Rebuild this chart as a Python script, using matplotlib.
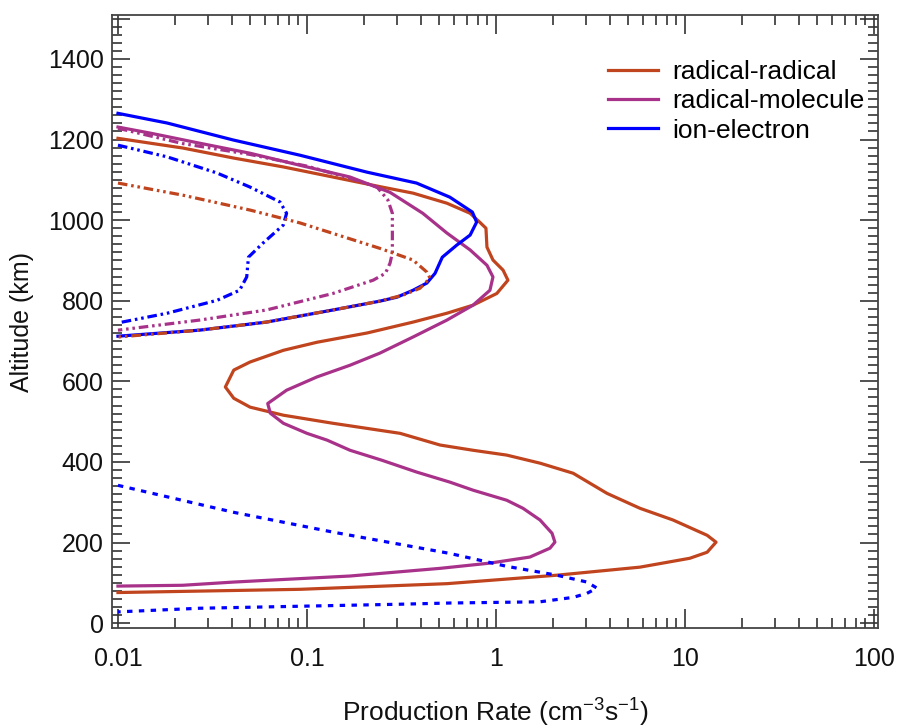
import matplotlib
matplotlib.use("Agg")
import matplotlib.pyplot as plt
from matplotlib.ticker import FixedLocator, FixedFormatter, MultipleLocator, LogLocator, NullFormatter

plt.rcParams["font.family"] = ["Liberation Sans", "DejaVu Sans"]
plt.rcParams["mathtext.default"] = "regular"

# radical-radical (solid) production rate vs altitude
rr_x = [0.01, 0.0148, 0.022, 0.041, 0.075, 0.137, 0.25, 0.364, 0.55, 0.73, 0.82, 0.885,
        0.896, 0.964, 1.09, 1.157, 1.01, 0.756, 0.55, 0.364, 0.208, 0.113, 0.075, 0.05,
        0.041, 0.037, 0.041, 0.05, 0.075, 0.137, 0.311, 0.506, 0.756, 1.14, 1.71, 2.56,
        3.87, 5.78, 8.64, 13.1, 14.6, 13.1, 10.6, 5.78, 2.1, 0.55, 0.092, 0.01]
rr_y = [1203, 1191, 1179, 1154, 1132, 1107, 1082, 1067, 1042, 1017, 995, 980,
        933, 901, 876, 851, 818, 789, 769, 747, 720, 697, 677, 648,
        628, 586, 558, 536, 516, 496, 471, 442, 429, 417, 397, 372,
        322, 285, 256, 218, 201, 176, 161, 139, 119, 98, 84, 76]

# radical-molecule (solid)
rm_x = [0.01, 0.0148, 0.027, 0.05, 0.092, 0.169, 0.275, 0.41, 0.55, 0.73, 0.896, 0.964,
        0.929, 0.756, 0.55, 0.364, 0.243, 0.169, 0.113, 0.078, 0.062, 0.064, 0.075, 0.1,
        0.128, 0.169, 0.25, 0.38, 0.57, 0.756, 1.14, 1.39, 1.71, 1.98, 2.05, 1.93,
        1.51, 0.929, 0.506, 0.169, 0.041, 0.022, 0.01]
rm_y = [1231, 1216, 1191, 1166, 1136, 1107, 1069, 1017, 968, 926, 888, 859,
        826, 789, 752, 710, 670, 640, 611, 578, 545, 521, 496, 471,
        454, 429, 404, 375, 350, 330, 305, 285, 256, 223, 201, 186,
        164, 149, 136, 117, 102, 94, 92]

# ion-electron (solid)
ie_x = [0.01, 0.0182, 0.0406, 0.092, 0.208, 0.38, 0.57, 0.75, 0.79, 0.73, 0.62, 0.52,
        0.476, 0.431, 0.364, 0.30, 0.243, 0.137, 0.061, 0.027, 0.01]
ie_y = [1265, 1241, 1199, 1161, 1119, 1092, 1057, 1020, 995, 963, 938, 908,
        868, 844, 826, 809, 799, 777, 747, 727, 712]

# dash-dot-dot companions
rr2_x = [0.01, 0.022, 0.05, 0.092, 0.243, 0.364, 0.431, 0.448, 0.396, 0.322,
         0.243, 0.137, 0.061, 0.027, 0.01]
rr2_y = [1092, 1062, 1025, 993, 930, 901, 871, 856, 831, 814,
         799, 777, 747, 727, 710]

rm2_x = [0.01, 0.022, 0.05, 0.1, 0.169, 0.235, 0.268, 0.283, 0.283, 0.275, 0.26,
         0.224, 0.137, 0.061, 0.027, 0.01]
rm2_y = [1228, 1190, 1163, 1134, 1104, 1082, 1050, 1017, 918, 893, 868,
         851, 818, 777, 752, 727]

ie2_x = [0.01, 0.0182, 0.0334, 0.05, 0.072, 0.078, 0.075, 0.0585, 0.049, 0.048,
         0.044, 0.0334, 0.0182, 0.01]
ie2_y = [1186, 1157, 1117, 1082, 1045, 1017, 988, 943, 908, 859,
         826, 801, 769, 745]

# ion-electron dotted (low altitude)
ie3_x = [0.01, 0.041, 0.137, 0.57, 1.14, 2.1, 3.03, 3.42, 3.03, 2.56, 1.71, 0.57,
         0.31, 0.092, 0.027, 0.01]
ie3_y = [342, 275, 226, 173, 141, 119, 102, 87, 74, 64, 53, 50,
         47, 42, 37, 28]

x_ticks = [0.01, 0.1, 1, 10, 100]
x_labels = ["0.01", "0.1", "1", "10", "100"]
y_ticks = [0, 200, 400, 600, 800, 1000, 1200, 1400, 1500]
y_labels = ["0", "200", "400", "600", "800", "1000", "1200", "1400", ""]

c_rr = "#C0441E"
c_rm = "#A8328A"
c_ie = "#0000FF"
ddot = (0, (3, 1.2, 0.8, 1.2, 0.8, 1.2))

fig = plt.figure(figsize=(8.98, 7.28), dpi=100)
ax = fig.add_axes([112/898, 1 - 628/728, 766/898, 613/728])

lw = 2.3
ax.plot(rr_x, rr_y, color=c_rr, lw=lw, label="radical-radical")
ax.plot(rm_x, rm_y, color=c_rm, lw=lw, label="radical-molecule")
ax.plot(ie_x, ie_y, color=c_ie, lw=lw, label="ion-electron")
ax.plot(rm2_x, rm2_y, color=c_rm, lw=lw, ls=ddot)
ax.plot(ie2_x, ie2_y, color=c_ie, lw=lw, ls=ddot)
ax.plot(rr2_x, rr2_y, color=c_rr, lw=lw, ls=ddot)
ax.plot(ie3_x, ie3_y, color=c_ie, lw=lw, ls=(0, (1.7, 2.0)))

ax.set_xscale("log")
ax.set_xlim(0.0093, 105)
ax.set_ylim(-12, 1509)

ax.xaxis.set_major_locator(FixedLocator(x_ticks))
ax.xaxis.set_major_formatter(FixedFormatter(x_labels))
ax.xaxis.set_minor_locator(LogLocator(base=10, subs=range(2, 10)))
ax.xaxis.set_minor_formatter(NullFormatter())
ax.yaxis.set_major_locator(FixedLocator(y_ticks))
ax.yaxis.set_major_formatter(FixedFormatter(y_labels))
ax.yaxis.set_minor_locator(MultipleLocator(20))

for s in ax.spines.values():
    s.set_linewidth(1.3)
    s.set_color("#444444")
ax.tick_params(which="both", direction="in", top=True, right=True,
               color="#333333", width=1.2, labelsize=18, labelcolor="#111111")
ax.tick_params(axis="x", which="major", length=14, pad=14)
ax.tick_params(axis="x", which="minor", length=7)
ax.tick_params(axis="y", which="major", length=13, pad=6)
ax.tick_params(axis="y", which="minor", length=7)

ax.set_xlabel("Production Rate (cm$^{-3}$s$^{-1}$)", fontsize=19, labelpad=18, color="#111111")
ax.set_ylabel("Altitude (km)", fontsize=18, labelpad=10, color="#111111")

ax.legend(loc="upper left", bbox_to_anchor=(608/898, 1 - 60/728),
          bbox_transform=fig.transFigure, frameon=False, fontsize=19,
          handlelength=1.9, handletextpad=0.55, labelspacing=0.2,
          borderpad=0, borderaxespad=0)

fig.savefig("out.png", dpi=100)
